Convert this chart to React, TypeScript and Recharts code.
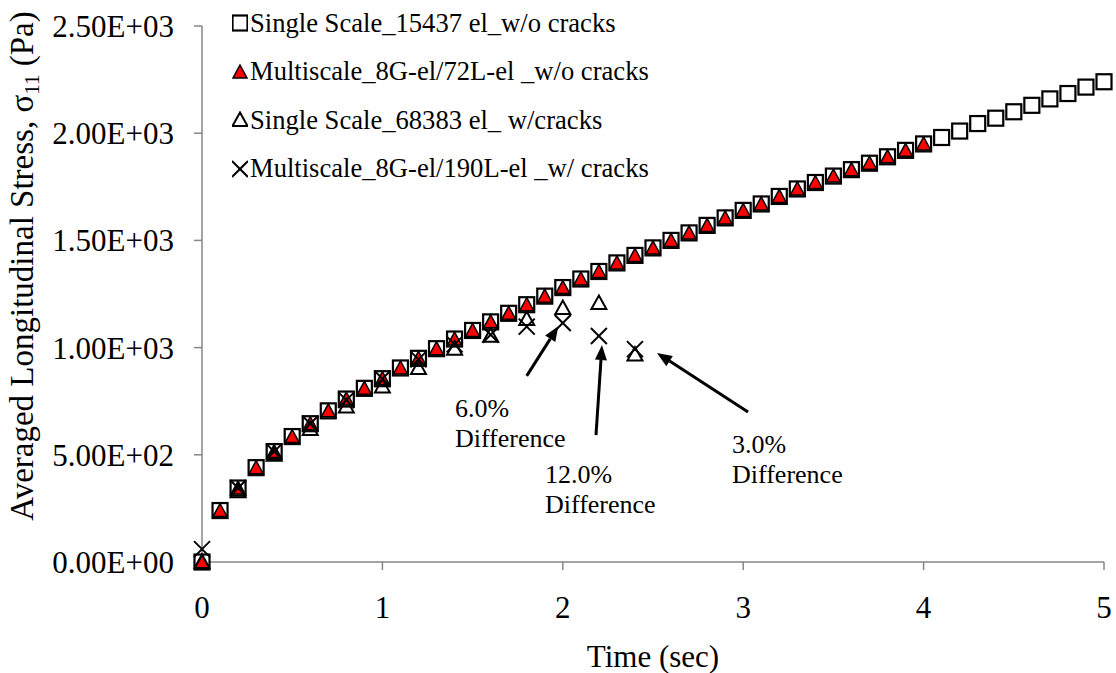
import { ScatterChart, Scatter, XAxis, YAxis, Legend, Label, ReferenceLine, ReferenceDot } from 'recharts';

// time steps (sec)
const timeFull = [
  0, 0.1, 0.2, 0.3, 0.4, 0.5, 0.6, 0.7, 0.8, 0.9, 1.0, 1.1, 1.2, 1.3, 1.4, 1.5, 1.6,
  1.7, 1.8, 1.9, 2.0, 2.1, 2.2, 2.3, 2.4, 2.5, 2.6, 2.7, 2.8, 2.9, 3.0, 3.1, 3.2, 3.3,
  3.4, 3.5, 3.6, 3.7, 3.8, 3.9, 4.0, 4.1, 4.2, 4.3, 4.4, 4.5, 4.6, 4.7, 4.8, 4.9, 5.0,
];
const timeMulti = [
  0, 0.1, 0.2, 0.3, 0.4, 0.5, 0.6, 0.7, 0.8, 0.9, 1.0, 1.1, 1.2, 1.3, 1.4, 1.5, 1.6,
  1.7, 1.8, 1.9, 2.0, 2.1, 2.2, 2.3, 2.4, 2.5, 2.6, 2.7, 2.8, 2.9, 3.0, 3.1, 3.2, 3.3,
  3.4, 3.5, 3.6, 3.7, 3.8, 3.9, 4.0,
];
const timeCracks = [0, 0.2, 0.4, 0.6, 0.8, 1.0, 1.2, 1.4, 1.6, 1.8, 2.0, 2.2, 2.4];

// averaged longitudinal stress (Pa)
const singleNoCracks = [
  0, 240, 345, 440, 515, 585, 645, 705, 760, 810, 855, 905, 950, 995, 1040, 1080, 1120,
  1160, 1200, 1240, 1280, 1320, 1355, 1395, 1430, 1465, 1500, 1535, 1570, 1605, 1640, 1670,
  1705, 1740, 1770, 1800, 1830, 1860, 1890, 1920, 1950, 1980, 2010, 2045, 2070, 2100, 2130,
  2160, 2185, 2215, 2240,
];
const multiNoCracks = [
  0, 240, 345, 440, 515, 585, 645, 705, 760, 810, 855, 905, 950, 995, 1040, 1080, 1120,
  1160, 1200, 1240, 1280, 1320, 1355, 1395, 1430, 1465, 1500, 1535, 1570, 1605, 1640, 1670,
  1705, 1740, 1770, 1800, 1830, 1860, 1890, 1920, 1950,
];
const singleCracks = [0, 330, 500, 620, 725, 818, 905, 995, 1055, 1133, 1185, 1208, 968];
const multiCracks = [60, 345, 515, 645, 755, 855, 945, 1015, 1060, 1098, 1115, 1054, 993];

const yTicks = [0, 500, 1000, 1500, 2000, 2500];
const xTicks = [0, 1, 2, 3, 4, 5];

const toPoints = (xs: number[], ys: number[]) => xs.map((x, i) => ({ x, y: ys[i] }));

const FONT = '"Liberation Serif", "Times New Roman", serif';
const AXIS_GREY = '#868686';

const fmtSci = (v: number) => {
  if (v === 0) return '0.00E+00';
  const e = Math.floor(Math.log10(v));
  const m = v / Math.pow(10, e);
  return `${m.toFixed(2)}E+${String(e).padStart(2, '0')}`;
};

// marker shapes
const Square = ({ cx, cy }: any) => (
  <rect x={cx - 7.5} y={cy - 7.5} width={15} height={15} fill="#fff" stroke="#000" strokeWidth={2.2} />
);
const RedTriangle = ({ cx, cy }: any) => (
  <polygon points={`${cx},${cy - 7} ${cx + 7},${cy + 6} ${cx - 7},${cy + 6}`} fill="#ff0000" stroke="#000" strokeWidth={1.5} />
);
const OpenTriangle = ({ cx, cy }: any) => (
  <polygon points={`${cx},${cy - 7.5} ${cx + 7.5},${cy + 6} ${cx - 7.5},${cy + 6}`} fill="none" stroke="#000" strokeWidth={2} />
);
const Cross = ({ cx, cy }: any) => (
  <g stroke="#000" strokeWidth={2}>
    <line x1={cx - 8} y1={cy - 8} x2={cx + 8} y2={cy + 8} />
    <line x1={cx - 8} y1={cy + 8} x2={cx + 8} y2={cy - 8} />
  </g>
);

const series = [
  { name: 'Single Scale_15437 el_w/o cracks', data: toPoints(timeFull, singleNoCracks), Shape: Square },
  { name: 'Multiscale_8G-el/72L-el _w/o cracks', data: toPoints(timeMulti, multiNoCracks), Shape: RedTriangle },
  { name: 'Single Scale_68383 el_ w/cracks', data: toPoints(timeCracks, singleCracks), Shape: OpenTriangle },
  { name: 'Multiscale_8G-el/190L-el _w/ cracks', data: toPoints(timeCracks, multiCracks), Shape: Cross },
];

// arrows pointing at the cracked results
const arrows = [
  { from: { x: 1.8, y: 868 }, to: { x: 1.975, y: 1100 } },
  { from: { x: 2.184, y: 592 }, to: { x: 2.217, y: 1012 } },
  { from: { x: 3.027, y: 700 }, to: { x: 2.522, y: 975 } },
];

const notes = [
  { x: 1.402, y: 676, lines: ['6.0%', 'Difference'] },
  { x: 1.901, y: 368, lines: ['12.0%', 'Difference'] },
  { x: 2.938, y: 508, lines: ['3.0%', 'Difference'] },
];

const Arrow = (props: any) => {
  const { x1, y1, x2, y2 } = props;
  const dx = x2 - x1;
  const dy = y2 - y1;
  const len = Math.sqrt(dx * dx + dy * dy);
  const ux = dx / len;
  const uy = dy / len;
  const head = 15;
  const half = 6;
  const bx = x2 - ux * head;
  const by = y2 - uy * head;
  return (
    <g>
      <line x1={x1} y1={y1} x2={bx} y2={by} stroke="#000" strokeWidth={3} />
      <polygon
        points={`${x2},${y2} ${bx - uy * half},${by + ux * half} ${bx + uy * half},${by - ux * half}`}
        fill="#000"
      />
    </g>
  );
};

const renderLegend = () => (
  <div style={{ fontFamily: FONT, fontSize: 26.6, color: '#000' }}>
    {series.map(({ name, Shape }) => (
      <div key={name} style={{ height: 48.5, display: 'flex', alignItems: 'center', whiteSpace: 'nowrap' }}>
        <svg width={16} height={18} style={{ marginRight: 2 }}>
          <Shape cx={8} cy={9} />
        </svg>
        <span>{name}</span>
      </div>
    ))}
  </div>
);

const YTitle = ({ viewBox }: any) => {
  const cx = 33;
  const cy = viewBox.y + 240;
  return (
    <text x={cx} y={cy} transform={`rotate(-90, ${cx}, ${cy})`} textAnchor="middle" fontFamily={FONT} fontSize={33} fill="#000">
      <tspan>Averaged Longitudinal Stress, σ</tspan>
      <tspan fontSize={21} dy={6}>11</tspan>
      <tspan dy={-6}> (Pa)</tspan>
    </text>
  );
};

const XTitle = ({ viewBox }: any) => (
  <text x={viewBox.x + viewBox.width / 2} y={viewBox.y + 105} textAnchor="middle" fontFamily={FONT} fontSize={31} fill="#000">
    Time (sec)
  </text>
);

export default function App() {
  return (
    <div style={{ position: 'absolute', left: 0, top: 0, width: 1116, height: 673, background: '#fff' }}>
      <ScatterChart width={1116} height={673} margin={{ top: 26, right: 12, left: 0, bottom: 0 }}>
        <XAxis
          type="number"
          dataKey="x"
          domain={[0, 5]}
          ticks={xTicks}
          height={111}
          stroke={AXIS_GREY}
          strokeWidth={1.5}
          tickSize={8}
          tickMargin={26}
          tick={{ fill: '#000', fontFamily: FONT, fontSize: 31 }}
        >
          <Label content={<XTitle />} />
        </XAxis>
        <YAxis
          type="number"
          dataKey="y"
          domain={[0, 2500]}
          ticks={yTicks}
          width={202}
          stroke={AXIS_GREY}
          strokeWidth={1.5}
          tickSize={8}
          tickMargin={20}
          tickFormatter={fmtSci}
          tick={{ fill: '#000', fontFamily: FONT, fontSize: 31 }}
        >
          <Label content={<YTitle />} />
        </YAxis>
        <Legend
          layout="vertical"
          align="center"
          verticalAlign="middle"
          content={renderLegend}
          wrapperStyle={{ left: 232, top: -1, width: 'auto' }}
        />
        {series.map(({ name, data, Shape }) => (
          <Scatter key={name} name={name} data={data} shape={<Shape />} isAnimationActive={false} />
        ))}
        {arrows.map((a, i) => (
          <ReferenceLine key={`arrow-${i}`} segment={[a.from, a.to]} shape={<Arrow />} />
        ))}
        {notes.map((n, i) => (
          <ReferenceDot
            key={`note-${i}`}
            x={n.x}
            y={n.y}
            r={0}
            shape={(p: any) => (
              <text x={p.cx} y={p.cy} fontFamily={FONT} fontSize={26} fill="#000">
                {n.lines.map((line, j) => (
                  <tspan key={j} x={p.cx} dy={j === 0 ? 0 : 30}>
                    {line}
                  </tspan>
                ))}
              </text>
            )}
          />
        ))}
      </ScatterChart>
    </div>
  );
}
